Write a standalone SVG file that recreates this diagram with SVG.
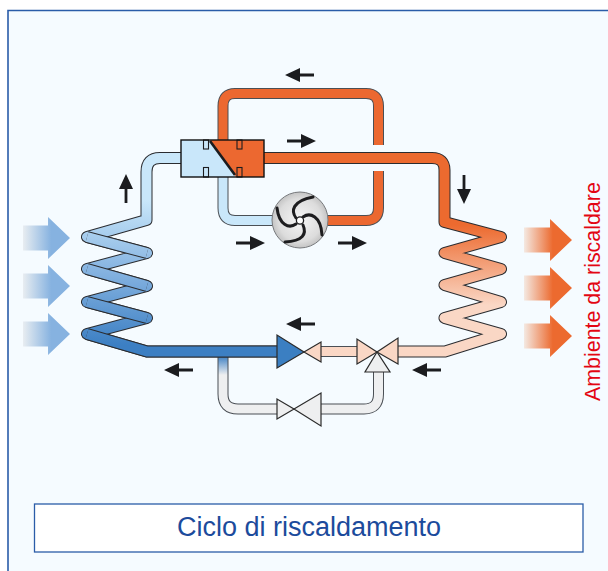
<svg xmlns="http://www.w3.org/2000/svg" xmlns:xlink="http://www.w3.org/1999/xlink" width="608" height="571" viewBox="0 0 608 571">
<style>
.o{fill:none;stroke:#4a4f55;stroke-width:11;stroke-linejoin:round}
.c{fill:none;stroke-width:9;stroke-linejoin:round}
.k{fill:none;stroke:#2a2c30;stroke-width:12;stroke-linejoin:round}
.t{fill:none;stroke-width:10;stroke-linejoin:round}
.v{stroke:#2b2b2b;stroke-width:1.2;stroke-linejoin:miter}
.blade{fill:none;stroke:#1d1d1f;stroke-width:3;stroke-linecap:round}
.sans{font-family:"Liberation Sans",Arial,sans-serif}
</style>
<defs>
<linearGradient id="gL" gradientUnits="userSpaceOnUse" x1="0" y1="200" x2="0" y2="345"><stop offset="0" stop-color="#c9e7fa"/><stop offset="0.5" stop-color="#84b2e0"/><stop offset="1" stop-color="#3c7fc3"/></linearGradient>
<linearGradient id="gR" gradientUnits="userSpaceOnUse" x1="0" y1="225" x2="0" y2="305"><stop offset="0" stop-color="#ec6a2f"/><stop offset="1" stop-color="#fad7c5"/></linearGradient>
<linearGradient id="gB" gradientUnits="userSpaceOnUse" x1="0" y1="356" x2="0" y2="375"><stop offset="0" stop-color="#3c7fc3"/><stop offset="1" stop-color="#eeeff0"/></linearGradient>
<linearGradient id="aB" x1="0" x2="1" y1="0" y2="0"><stop offset="0" stop-color="#e8edf1"/><stop offset="0.6" stop-color="#86b2e0"/><stop offset="1" stop-color="#86b2e0"/></linearGradient>
<linearGradient id="aO" x1="0" x2="1" y1="0" y2="0"><stop offset="0" stop-color="#f4e9e2"/><stop offset="0.6" stop-color="#ec6a2f"/><stop offset="1" stop-color="#ec6a2f"/></linearGradient>
<radialGradient id="fan" cx="0.5" cy="0.5" r="0.55"><stop offset="0" stop-color="#f6f6f6"/><stop offset="0.7" stop-color="#dcdcdc"/><stop offset="1" stop-color="#b9b9b9"/></radialGradient>
<path id="arrow" d="M-29 -1.400H-15V-7L0 0L-15 7V1.400H-29Z" fill="#1b1c1f"/>
<path id="bigB" d="M0 -12.500H25V-21L47 0L25 21V12.500H0Z" fill="url(#aB)"/>
<path id="bigO" d="M0 -12.500H26V-21L48 0L26 21V12.500H0Z" fill="url(#aO)"/>
</defs>
<rect width="608" height="571" fill="#ffffff"/>
<path id="frame" d="M8 571V10.500H608V571Z" fill="#f5fbff"/>
<path d="M8 571V10.500H608" fill="none" stroke="#2a5ca8" stroke-width="1.600"/>

<g id="connectors">
<path class="o" d="M223 140V106Q223 93.500 235 93.500H366Q378.500 93.500 378.500 106V145"/>
<path class="c" stroke="#ec6830" d="M223 140V106Q223 93.500 235 93.500H366Q378.500 93.500 378.500 106V145"/>
<path class="o" d="M378.500 171V208Q378.500 220.500 366 220.500H320"/>
<path class="c" stroke="#ec6830" d="M378.500 171V208Q378.500 220.500 366 220.500H320"/>
<path class="o" d="M223 177V208Q223 220.500 235 220.500H280"/>
<path class="c" stroke="#c9e7fa" d="M223 177V208Q223 220.500 235 220.500H280"/>

<path class="o" d="M223 352V394Q223 409 238 409H280"/>
<path class="c" stroke="url(#gB)" d="M223 352V394Q223 409 238 409H280"/>
<path class="o" d="M318 409H364Q378.500 409 378.500 394V370"/>
<path class="c" stroke="#eeeff0" d="M318 409H364Q378.500 409 378.500 394V370"/>

<path id="pipe-hot" class="k" d="M262 158H432Q444.500 158 444.500 170V222L501 237L444.500 253L501 269L444.500 285L501 302L444.500 318L501 334L445 351.500H396"/>
<path class="t" stroke="url(#gR)" d="M262 158H432Q444.500 158 444.500 170V222L501 237L444.500 253L501 269L444.500 285L501 302L444.500 318L501 334L445 351.500H396"/>
<path class="o" d="M320 351.500H358"/>
<path class="c" stroke="#fad7c5" d="M320 351.500H358"/>

<path id="pipe-cold" class="k" d="M183 158H160Q146.500 158 146.500 172V220L87 237L147 253L87 269L147 286L87 302L147 318L87 334L147 351.500H279"/>
<path class="t" stroke="url(#gL)" d="M183 158H160Q146.500 158 146.500 172V220L87 237L147 253L87 269L147 286L87 302L147 318L87 334L147 351.500H279"/>
<path class="k" d="M87 237L147 253"/><path class="t" stroke="url(#gL)" d="M87 237L147 253"/>
<path class="k" d="M87 269L147 286"/><path class="t" stroke="url(#gL)" d="M87 269L147 286"/>
<path class="k" d="M87 302L147 318"/><path class="t" stroke="url(#gL)" d="M87 302L147 318"/>
<path class="k" d="M87 334L147 351.500H279"/><path class="t" stroke="url(#gL)" d="M87 334L147 351.500H279"/>
</g>

<g id="flow-arrows">
<use href="#arrow" transform="translate(285 75) rotate(180)"/>
<use href="#arrow" transform="translate(316 141)"/>
<use href="#arrow" transform="translate(265 243)"/>
<use href="#arrow" transform="translate(367 243)"/>
<use href="#arrow" transform="translate(126 174) rotate(-90)"/>
<use href="#arrow" transform="translate(464 204) rotate(90)"/>
<use href="#arrow" transform="translate(286 324) rotate(180)"/>
<use href="#arrow" transform="translate(412 370) rotate(180)"/>
<use href="#arrow" transform="translate(164 370) rotate(180)"/>
</g>

<g id="air-in">
<use href="#bigB" x="23" y="238"/>
<use href="#bigB" x="23" y="286"/>
<use href="#bigB" x="23" y="334"/>
</g>
<g id="air-out">
<use href="#bigO" x="524" y="240"/>
<use href="#bigO" x="524" y="288"/>
<use href="#bigO" x="524" y="336"/>
</g>

<g id="reversing-valve">
<rect x="181" y="140" width="83" height="37" fill="#c9e7fa"/>
<path d="M210 140H264V177H236Z" fill="#ec6830"/>
<g stroke="#1b1c1f" stroke-width="1.100">
<rect x="203.500" y="140" width="5" height="9" fill="#c9e7fa"/>
<rect x="203.500" y="167.500" width="5" height="9.500" fill="#c9e7fa"/>
<rect x="237" y="140" width="5" height="9" fill="#ec6830"/>
<rect x="237" y="167.500" width="5" height="9.500" fill="#ec6830"/>
</g>
<rect x="181" y="140" width="83" height="37" fill="none" stroke="#111" stroke-width="1.400"/>
<path d="M210 141L235 175" stroke="#1b1c1f" stroke-width="2.600" fill="none"/>
</g>

<g id="fan-unit">
<circle cx="300" cy="220" r="28" fill="url(#fan)" stroke="#77797c" stroke-width="1"/>
<path class="blade" d="M296 218C291 211 292 201 313 197"/>
<path class="blade" d="M303 217C310 212 321 216 322 235"/>
<path class="blade" d="M303 225C307 234 303 241 285 242"/>
<path class="blade" d="M296 224C289 229 279 225 277 208"/>
<circle cx="300" cy="220.500" r="3.600" fill="#fff" stroke="#1d1d1f" stroke-width="1.300"/>
</g>

<g id="expansion-valve">
<path class="v" d="M277 335V368L304 352Z" fill="#3b7fc2"/>
<path class="v" d="M304 352L321 342V362Z" fill="#fad7c5"/>
</g>
<g id="three-way-valve">
<path class="v" d="M377 352L365 372H390Z" fill="#eeeff0"/>
<path class="v" d="M357 339V364L377 352Z" fill="#fad7c5"/>
<path class="v" d="M398 338V364L377 352Z" fill="#fad7c5"/>
</g>
<g id="bypass-valve">
<path class="v" d="M277 399V419L294 409Z" fill="#eeeff0"/>
<path class="v" d="M294 409L321 393V426Z" fill="#eeeff0"/>
</g>

<g id="label-room">
<text class="sans" transform="translate(600 401) rotate(-90)" font-size="21.400" fill="#e30613">Ambiente da riscaldare</text>
</g>
<g id="title">
<rect x="34.500" y="504" width="548.500" height="48" fill="#ffffff" stroke="#2a5ca8" stroke-width="1.300"/>
<text class="sans" x="309" y="536" font-size="27" text-anchor="middle" fill="#1c4b9c">Ciclo di riscaldamento</text>
</g>
</svg>
